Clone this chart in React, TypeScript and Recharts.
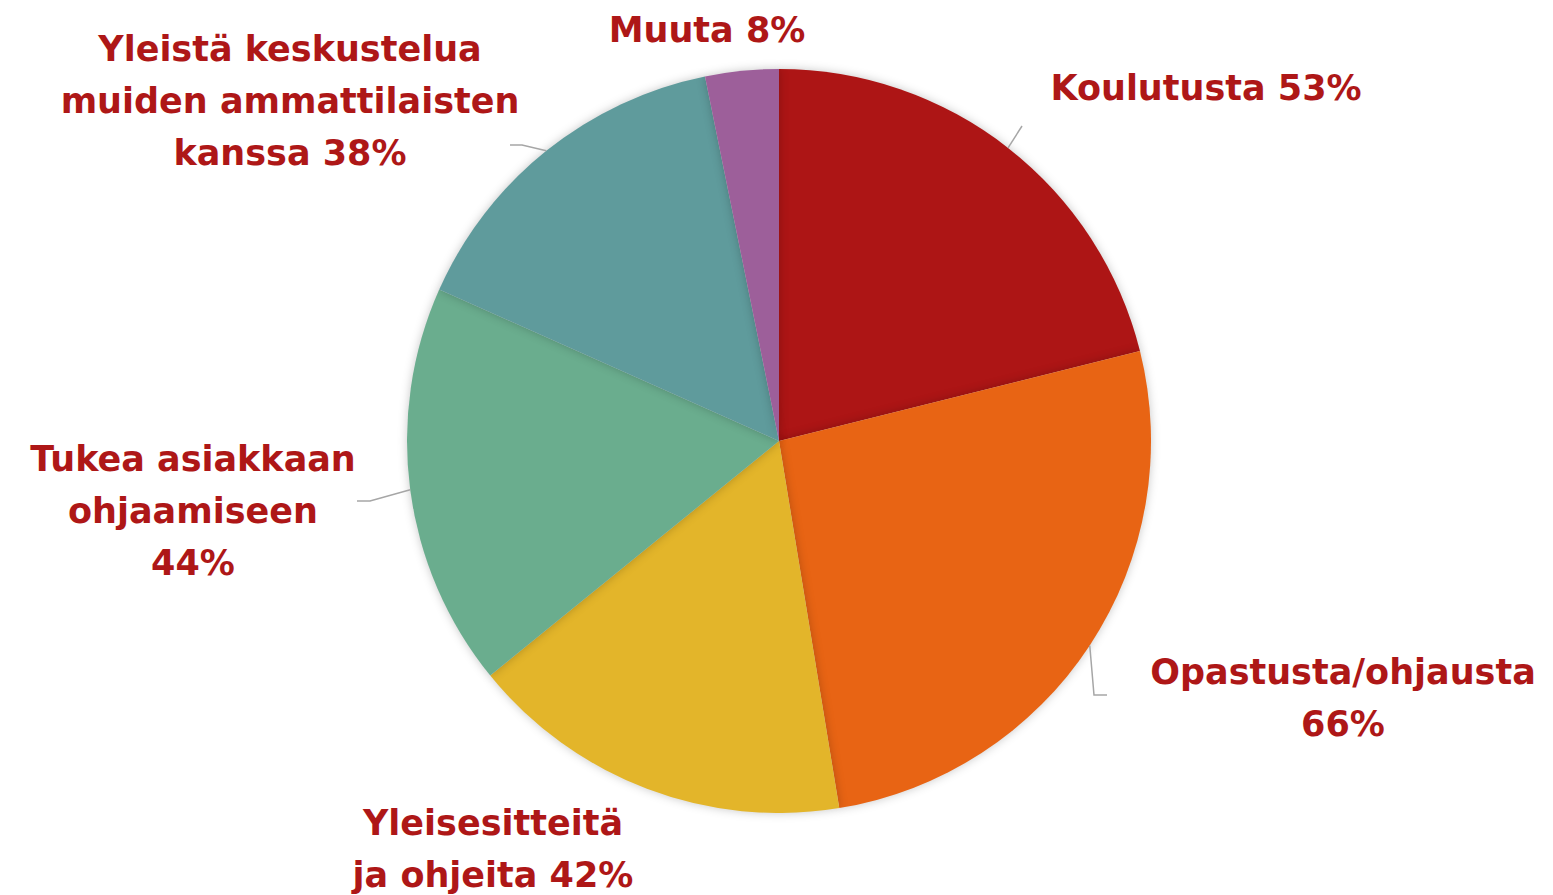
import { PieChart, Pie, Cell } from 'recharts';

const categories = [
    'Koulutusta',
    'Opastusta/ohjausta',
    'Yleisesitteitä ja ohjeita',
    'Tukea asiakkaan ohjaamiseen',
    'Yleistä keskustelua muiden ammattilaisten kanssa',
    'Muuta',
];
const values = [53, 66, 42, 44, 38, 8];
const labelLines = [
    ['Koulutusta 53%'],
    ['Opastusta/ohjausta', '66%'],
    ['Yleisesitteitä', 'ja ohjeita 42%'],
    ['Tukea asiakkaan', 'ohjaamiseen', '44%'],
    ['Yleistä keskustelua', 'muiden ammattilaisten', 'kanssa 38%'],
    ['Muuta 8%'],
];
const colors = ['#AD1515', '#E86414', '#E3B52A', '#6AAD8E', '#5F9B9C', '#9D5F9A'];

// label placement relative to pie centre: text x, first baseline, leader elbow/end
const labelLayout = [
    { x: 427, y: -341, line: [[243, -315]] },
    { x: 564, y: 243, line: [[315, 254], [328, 254]] },
    { x: -286, y: 394, line: [] },
    { x: -586, y: 30, line: [[-409, 60], [-422, 60]] },
    { x: -489, y: -380, line: [[-257, -296], [-269, -296]] },
    { x: -72, y: -399, line: [] },
];

const data = categories.map((name, i) => ({ name, value: values[i] }));

const RAD = Math.PI / 180;

function renderLabel(props: any) {
    const { cx, cy, midAngle, outerRadius, index } = props;
    const lay = labelLayout[index];
    const sx = cx + outerRadius * Math.cos(-midAngle * RAD);
    const sy = cy + outerRadius * Math.sin(-midAngle * RAD);
    const pts = [[sx, sy], ...lay.line.map(([x, y]) => [cx + x, cy + y])];
    return (
        <g key={`lbl-${index}`}>
            {pts.length > 1 && (
                <polyline
                    points={pts.map(p => p.join(',')).join(' ')}
                    fill="none"
                    stroke="#A6A6A6"
                    strokeWidth={1.5}
                />
            )}
            <text
                x={cx + lay.x}
                y={cy + lay.y}
                textAnchor="middle"
                fill="#AE1717"
                fontSize={35}
                fontWeight="bold"
                fontFamily="DejaVu Sans"
            >
                {labelLines[index].map((t, j) => (
                    <tspan key={j} x={cx + lay.x} dy={j === 0 ? 0 : 52}>{t}</tspan>
                ))}
            </text>
        </g>
    );
}

export default function App() {
    return (
        <div style={{ width: 1553, height: 895, background: '#fff' }}>
            <style>{`
                body { margin: 0; }
                .recharts-pie-sector path, .recharts-sector { filter: drop-shadow(0 0 5px rgba(0,0,0,0.22)); }
            `}</style>
            <PieChart width={1553} height={895} margin={{ top: 0, right: 0, bottom: 0, left: 0 }}>
                <Pie
                    data={data}
                    dataKey="value"
                    nameKey="name"
                    cx={779}
                    cy={441}
                    outerRadius={372}
                    startAngle={90}
                    endAngle={-270}
                    stroke="none"
                    label={renderLabel}
                    labelLine={false}
                    isAnimationActive={false}
                >
                    {data.map((d, i) => (
                        <Cell key={d.name} fill={colors[i]} />
                    ))}
                </Pie>
            </PieChart>
        </div>
    );
}
